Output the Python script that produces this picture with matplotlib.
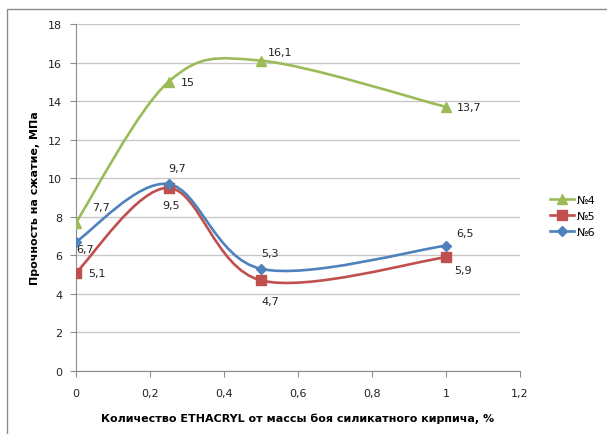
import matplotlib
matplotlib.use("Agg")
from matplotlib import pyplot as plt
from matplotlib.path import Path
from matplotlib.patches import PathPatch, Rectangle
from matplotlib.lines import Line2D
from matplotlib.ticker import FuncFormatter, MultipleLocator
import numpy as np

x = [0, 0.25, 0.5, 1]
s4 = [7.7, 15, 16.1, 13.7]
s5 = [5.1, 9.5, 4.7, 5.9]
s6 = [6.7, 9.7, 5.3, 6.5]
names = ["№4", "№5", "№6"]
colors = ["#9BBB59", "#C0504D", "#4F81BD"]
markers = ["^", "s", "D"]
msizes = [7, 6.5, 5]

# label centre offsets in points (dx, dy) for each point
offs4 = [(18, 11), (14, 0), (14, 6), (16.5, 0)]
offs5 = [(15, 0), (1.5, -12), (6.5, -15), (12, -9)]
offs6 = [(6.5, -5), (6, 11.5), (6.5, 11.5), (14, 9)]

plt.rcParams['font.family'] = ['DejaVu Sans']


def smooth_path(xs, ys):
    # excel-like smoothing (Catmull-Rom -> cubic Bezier)
    p = np.column_stack([xs, ys]).astype(float)
    ext = np.vstack([p[0], p, p[-1]])
    verts = [p[0]]
    codes = [Path.MOVETO]
    for i in range(len(p) - 1):
        a, b, c, d = ext[i], ext[i + 1], ext[i + 2], ext[i + 3]
        verts += [b + (c - a) / 6, c - (d - b) / 6, c]
        codes += [Path.CURVE4] * 3
    return Path(verts, codes)


fig = plt.figure(figsize=(6.07, 4.35), dpi=100)
ax = fig.add_axes([76 / 607, 1 - 372 / 435, 444 / 607, 347 / 435])

fig.patches.append(Rectangle((7 / 607, -0.1), 1.2, 1.1 - 10 / 435,
                             transform=fig.transFigure, fill=False,
                             edgecolor="#8C8C8C", lw=1))

for ys, col, mk, ms, offs in zip([s4, s5, s6], colors, markers, msizes,
                                 [offs4, offs5, offs6]):
    ax.add_patch(PathPatch(smooth_path(x, ys), fill=False, edgecolor=col,
                           lw=1.9, zorder=3, capstyle="round"))
    ax.plot(x, ys, linestyle="none", marker=mk, ms=ms, color=col, zorder=4)
    for xi, yi, (dx, dy) in zip(x, ys, offs):
        ax.annotate(str(yi).replace(".", ","), (xi, yi), xytext=(dx, dy),
                    textcoords="offset points", fontsize=8, color="#222222",
                    ha="center", va="center", zorder=5)

ax.set_xlim(0, 1.2)
ax.set_ylim(0, 18)
ax.xaxis.set_major_locator(MultipleLocator(0.2))
ax.yaxis.set_major_locator(MultipleLocator(2))
fmt = FuncFormatter(lambda v, pos: ("%g" % round(v, 2)).replace(".", ","))
ax.xaxis.set_major_formatter(fmt)
ax.yaxis.set_major_formatter(fmt)
ax.grid(axis="y", color="#C8C8C8", lw=1)
ax.set_axisbelow(True)
for sp in ["top", "right"]:
    ax.spines[sp].set_visible(False)
for sp in ["left", "bottom"]:
    ax.spines[sp].set_color("#8C8C8C")
ax.tick_params(colors="#8C8C8C", labelcolor="#222222", labelsize=8,
               length=4)
ax.tick_params(axis="y", pad=6)
ax.tick_params(axis="x", pad=8)

ax.set_xlabel("Количество ETHACRYL от массы боя силикатного кирпича, %",
              fontsize=8, fontweight="bold", labelpad=11)
ax.set_ylabel("Прочность на сжатие, МПа", fontsize=8, fontweight="bold",
              labelpad=6)

handles = [Line2D([], [], color=c, marker=m, ms=s, lw=1.9)
           for c, m, s in zip(colors, markers, msizes)]
fig.legend(handles, names, loc="center left", bbox_to_anchor=(540 / 607, 1 - 217 / 435),
           frameon=False, fontsize=8, handlelength=2.2, handletextpad=0.2,
           labelspacing=0.55)

fig.savefig("out.png", dpi=100)
